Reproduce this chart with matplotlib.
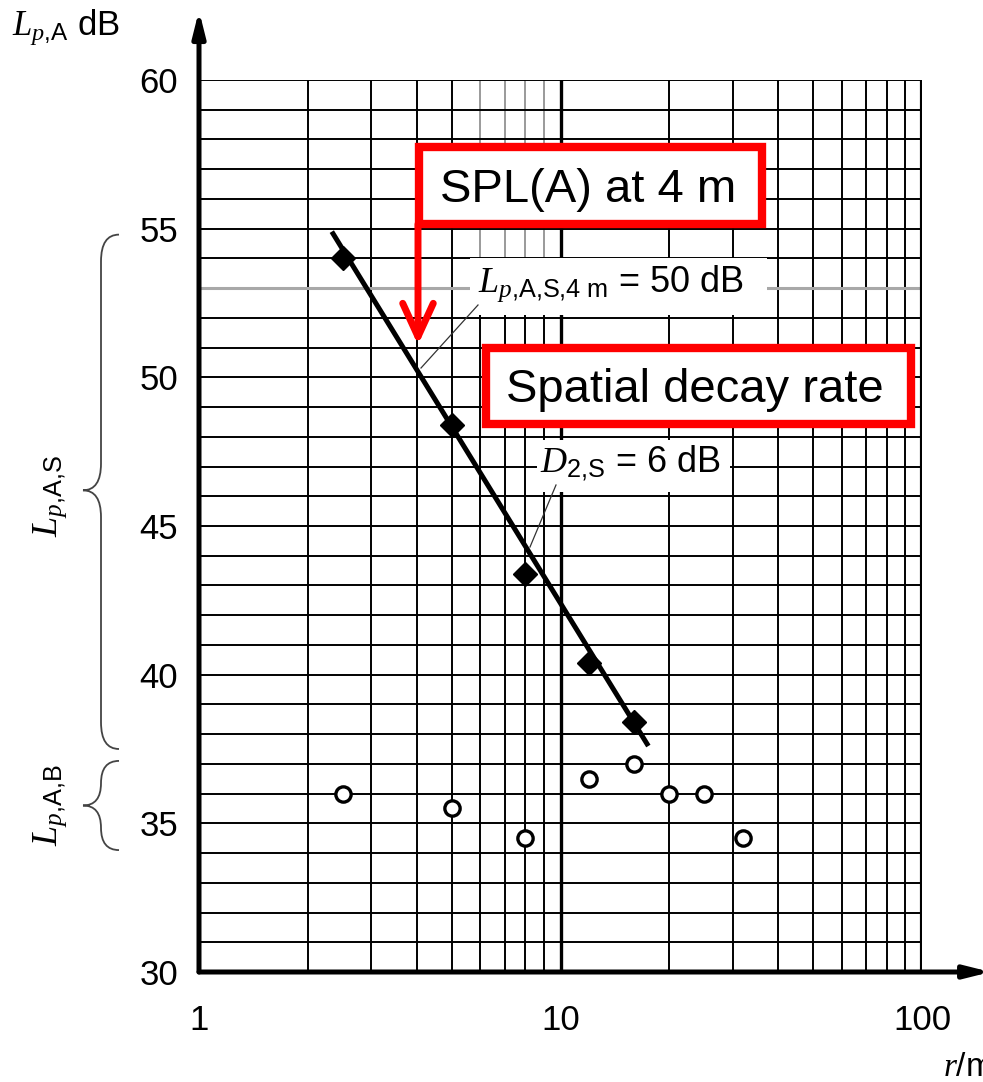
import numpy as np
import matplotlib
matplotlib.use("Agg")
import matplotlib.pyplot as plt
from matplotlib.patches import Rectangle, PathPatch
from matplotlib.path import Path
from matplotlib.lines import Line2D
import matplotlib.transforms as mtransforms

# ---------------- data ----------------
r_source = [2.5, 5, 8, 12, 16]
L_source = [54.0, 48.4, 43.4, 40.4, 38.4]
r_background = [2.5, 5, 8, 12, 16, 20, 25, 32]
L_background = [36.0, 35.5, 34.5, 36.5, 37.0, 36.0, 36.0, 34.5]
fit_r = [2.33, 17.5]
fit_L = [54.9, 37.6]
y_ticks = [30, 35, 40, 45, 50, 55, 60]
x_ticks = [1, 10, 100]
x_ticklabels = ["1", "10", "100"]
x_grid_minor = [2, 3, 4, 5, 6, 7, 8, 9, 20, 30, 40, 50, 60, 70, 80, 90]
y_grid = list(range(31, 61))
brace_S = (54.8, 46.2, 37.5)
brace_B = (37.1, 35.6, 34.1)

# ---------------- style ----------------
plt.rcParams['font.family'] = ['Liberation Sans', 'DejaVu Sans']
plt.rcParams['mathtext.fontset'] = 'custom'
plt.rcParams['mathtext.rm'] = 'Liberation Sans'
plt.rcParams['mathtext.it'] = 'Liberation Serif:italic'
plt.rcParams['mathtext.bf'] = 'Liberation Sans:bold'
plt.rcParams['mathtext.sf'] = 'Liberation Sans'

W, H = 983, 1082
fig = plt.figure(figsize=(W / 100, H / 100), dpi=100)
PX_L, PX_R, PX_T, PX_B = 199, 922, 80, 972
ax = fig.add_axes([PX_L / W, 1 - PX_B / H, (PX_R - PX_L) / W, (PX_B - PX_T) / H])


def A(px, py):
    return ((px - PX_L) / (PX_R - PX_L), (PX_B - py) / (PX_B - PX_T))


def AX(px):
    return (px - PX_L) / (PX_R - PX_L)


ax.set_xscale('log')
ax.set_xlim(1, 100)
ax.set_ylim(30, 60)
for s in ax.spines.values():
    s.set_visible(False)

# grid
gl = 1.4
for xv in x_grid_minor:
    if xv in (6, 7, 8, 9):
        ax.plot([xv, xv], [30, 54], color='k', lw=gl, zorder=1)
        ax.plot([xv, xv], [54, 60], color='#9a9a9a', lw=gl, zorder=1)
    else:
        ax.plot([xv, xv], [30, 60], color='k', lw=gl, zorder=1)
for yv in y_grid:
    col = '#a8a8a8' if yv == 53 else 'k'
    lw = 2.2 if yv == 53 else gl
    ax.plot([1, 100], [yv, yv], color=col, lw=lw, zorder=1)
ax.plot([10, 10], [30, 60], color='k', lw=2.4, zorder=1.5)
ax.plot([100, 100], [30, 60], color='k', lw=3.0, zorder=1.5)

# axes with arrows
arrow_style = '-|>,head_length=0.6,head_width=0.15'
ax.annotate('', xy=(0, 1.078), xytext=(0, 0), xycoords='axes fraction',
            arrowprops=dict(arrowstyle=arrow_style, lw=3.6, color='k', mutation_scale=25,
                            shrinkA=0, shrinkB=0), annotation_clip=False, zorder=5)
ax.annotate('', xy=(1.095, 0), xytext=(0, 0), xycoords='axes fraction',
            arrowprops=dict(arrowstyle=arrow_style, lw=3.6, color='k', mutation_scale=25,
                            shrinkA=0, shrinkB=0), annotation_clip=False, zorder=5)

# ticks
ax.set_yticks(y_ticks)
ax.set_yticklabels([str(v) for v in y_ticks])
ax.set_xticks(x_ticks)
ax.set_xticklabels(x_ticklabels)
ax.xaxis.set_minor_locator(matplotlib.ticker.NullLocator())
ax.tick_params(axis='y', length=0, pad=15, labelsize=25)
ax.tick_params(axis='x', length=0, pad=23, labelsize=25)

# data
ax.plot(fit_r, fit_L, color='k', lw=3.6, solid_capstyle='butt', zorder=6)
ax.plot(r_source, L_source, linestyle='none', marker='D', ms=12.5, color='k', zorder=7)
ax.plot(r_background, L_background, linestyle='none', marker='o', ms=11,
        mfc='white', mec='k', mew=2.4, zorder=7)

# white label backgrounds and annotation texts
tA = ax.transAxes
ax.add_patch(Rectangle(A(470, 315), AX(767) - AX(470), A(0, 258)[1] - A(0, 315)[1],
                       transform=tA, facecolor='white', edgecolor='none', zorder=3,
                       clip_on=False))
ax.add_patch(Rectangle(A(537, 492), AX(730) - AX(537), A(0, 440)[1] - A(0, 492)[1],
                       transform=tA, facecolor='white', edgecolor='none', zorder=3,
                       clip_on=False))
ax.text(*A(478, 292), r"$L_{p{,}\mathrm{A{,}S{,}4\ m}}$ = 50 dB", transform=tA,
        ha='left', va='baseline', fontsize=26, zorder=4)
ax.text(*A(540, 472), r"$D_{2{,}\mathrm{S}}$ = 6 dB", transform=tA,
        ha='left', va='baseline', fontsize=26, zorder=4)
ax.add_line(Line2D([AX(421), AX(478)], [A(0, 368)[1], A(0, 305)[1]], transform=tA,
                   color='#333333', lw=0.9, zorder=4, clip_on=False))
ax.add_line(Line2D([AX(530), AX(556)], [A(0, 547)[1], A(0, 485)[1]], transform=tA,
                   color='#333333', lw=0.9, zorder=4, clip_on=False))

# red boxes
ax.add_patch(Rectangle(A(419, 224), AX(762) - AX(419), A(0, 147)[1] - A(0, 224)[1],
                       transform=tA, facecolor='white', edgecolor='#ff0000', lw=6,
                       zorder=8, clip_on=False))
ax.text(*A(588, 202), "SPL(A) at 4 m", transform=tA, ha='center', va='baseline',
        fontsize=34, zorder=9)
ax.add_patch(Rectangle(A(486, 424), AX(911) - AX(486), A(0, 348)[1] - A(0, 424)[1],
                       transform=tA, facecolor='white', edgecolor='#ff0000', lw=6,
                       zorder=8, clip_on=False))
ax.text(*A(695, 402), "Spatial decay rate", transform=tA, ha='center', va='baseline',
        fontsize=34, zorder=9)
ax.annotate('', xy=A(418, 345), xytext=A(418, 224), xycoords='axes fraction',
            arrowprops=dict(arrowstyle='->,head_length=0.48,head_width=0.22',
                            lw=5, color='#ff0000', mutation_scale=50,
                            shrinkA=0, shrinkB=0, capstyle='round', joinstyle='round'),
            annotation_clip=False, zorder=8)

# braces
tB = mtransforms.blended_transform_factory(ax.transAxes, ax.transData)


def brace(yt, ym, yb, r, color):
    xe, xb, xt = AX(119), AX(101), AX(83)
    verts = [(xe, yt), (xb, yt), (xb, yt - r), (xb, ym + r), (xb, ym), (xt, ym),
             (xb, ym), (xb, ym - r), (xb, yb + r), (xb, yb), (xe, yb)]
    codes = [Path.MOVETO, Path.CURVE3, Path.CURVE3, Path.LINETO, Path.CURVE3, Path.CURVE3,
             Path.CURVE3, Path.CURVE3, Path.LINETO, Path.CURVE3, Path.CURVE3]
    ax.add_patch(PathPatch(Path(verts, codes), transform=tB, facecolor='none',
                           edgecolor=color, lw=1.3, clip_on=False))


brace(*brace_S, 0.9, '#444444')
brace(*brace_B, 0.75, '#444444')
ax.text(AX(50), 46.0, r"$L_{p{,}\mathrm{A{,}S}}$", transform=tB, rotation=90,
        ha='center', va='center', fontsize=26)
ax.text(AX(50), 35.6, r"$L_{p{,}\mathrm{A{,}B}}$", transform=tB, rotation=90,
        ha='center', va='center', fontsize=26)

# axis titles
ax.text(*A(12, 35), r"$L_{p{,}\mathrm{A}}$ dB", transform=tA, ha='left', va='baseline',
        fontsize=25)
ax.text(*A(943, 1076), r"$r$/m", transform=tA, ha='left', va='baseline', fontsize=24)

fig.savefig('out.png', dpi=100)
